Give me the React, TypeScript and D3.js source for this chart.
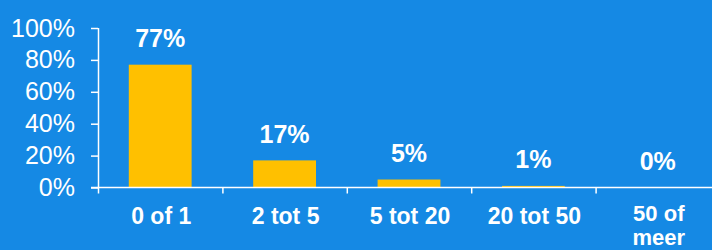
import { useEffect, useRef } from "react";
import * as d3 from "d3";

// categories and shares
const categories = ["0 of 1", "2 tot 5", "5 tot 20", "20 tot 50", "50 of meer"];
const shares = [0.77, 0.17, 0.05, 0.01, 0.0];
const labels = ["77%", "17%", "5%", "1%", "0%"];
const yTicks = [0, 0.2, 0.4, 0.6, 0.8, 1];

const BG = "#1589E4";
const BAR = "#FFC000";
const FONT = "Arial, 'Liberation Sans', sans-serif";

export default function App() {
  const ref = useRef<SVGSVGElement>(null);

  useEffect(() => {
    if (!ref.current) return;
    const svg = d3.select(ref.current);
    svg.selectAll("*").remove();

    const width = 712;
    const height = 250;
    const margin = { top: 28, left: 98, bottom: 62.5 };

    svg.append("rect").attr("width", width).attr("height", height).attr("fill", BG);

    const x = d3.scaleBand()
      .domain(categories)
      .range([margin.left, margin.left + 124.4 * categories.length])
      .padding(0);

    const y = d3.scaleLinear()
      .domain([0, 1])
      .range([height - margin.bottom, margin.top]);

    const barW = x.bandwidth() * 0.505;

    // bars
    svg.append("g")
      .selectAll("rect")
      .data(categories)
      .join("rect")
      .attr("x", d => x(d)! + (x.bandwidth() - barW) / 2)
      .attr("y", (d, i) => y(shares[i]))
      .attr("width", barW)
      .attr("height", (d, i) => y(0) - y(shares[i]))
      .attr("fill", BAR);

    // y axis
    const yAxis = svg.append("g")
      .attr("transform", `translate(${margin.left},0)`)
      .call(d3.axisLeft(y).tickValues(yTicks).tickFormat(d3.format(".0%")).tickSize(7).tickPadding(16));
    yAxis.select(".domain").attr("stroke", "#fff").attr("stroke-width", 1.5).attr("d", `M0.5,${y(1)}V${y(0)}`);
    yAxis.selectAll(".tick line").attr("stroke", "#fff").attr("stroke-width", 1.5);
    yAxis.selectAll(".tick text")
      .attr("fill", "#fff")
      .attr("font-family", FONT)
      .attr("font-size", 25);

    // x axis
    const xAxis = svg.append("g")
      .attr("transform", `translate(0,${y(0)})`);
    xAxis.append("line")
      .attr("x1", margin.left - 7).attr("x2", width)
      .attr("stroke", "#fff").attr("stroke-width", 1.5);
    xAxis.selectAll("line.tk")
      .data(categories)
      .join("line")
      .attr("class", "tk")
      .attr("x1", d => x(d)! + 0.5)
      .attr("x2", d => x(d)! + 0.5)
      .attr("y1", 0).attr("y2", 6)
      .attr("stroke", "#fff").attr("stroke-width", 1.5);

    xAxis.selectAll("text")
      .data(categories)
      .join("text")
      .attr("text-anchor", "middle")
      .attr("fill", "#fff")
      .attr("font-family", FONT)
      .attr("font-size", d => (d === "50 of meer" ? 22 : 23))
      .attr("font-weight", "bold")
      .each(function (d) {
        const t = d3.select(this);
        const cx = x(d)! + x.bandwidth() / 2 + 1;
        if (d === "50 of meer") {
          // wrapped in two lines, as in the original
          t.append("tspan").attr("x", cx).attr("y", 33).text("50 of");
          t.append("tspan").attr("x", cx).attr("y", 57.7).text("meer");
        } else {
          t.append("tspan").attr("x", cx).attr("y", 36).text(d);
        }
      });

    // value labels
    svg.append("g")
      .selectAll("text")
      .data(categories)
      .join("text")
      .attr("x", d => x(d)! + x.bandwidth() / 2)
      .attr("y", (d, i) => y(shares[i]) - 17.5)
      .attr("text-anchor", "middle")
      .attr("fill", "#fff")
      .attr("font-family", FONT)
      .attr("font-size", 25)
      .attr("font-weight", "bold")
      .text((d, i) => labels[i]);
  }, []);

  return (
    <svg ref={ref} width={712} height={250} style={{ position: "absolute", left: 0, top: 0, display: "block" }} />
  );
}
